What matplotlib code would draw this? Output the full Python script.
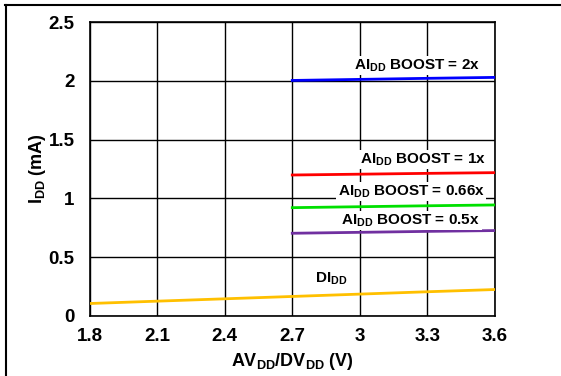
import matplotlib.pyplot as plt
from matplotlib.lines import Line2D

plt.rcParams['font.family'] = ['Liberation Sans', 'DejaVu Sans']

# supply voltage (V)
v_all = [1.8, 2.1, 2.4, 2.7, 3.0, 3.3, 3.6]
v_boost = [2.7, 3.0, 3.3, 3.6]

# supply current (mA)
didd = [0.105, 0.125, 0.145, 0.165, 0.185, 0.205, 0.224]
aidd_2x = [2.004, 2.013, 2.022, 2.03]
aidd_1x = [1.199, 1.206, 1.213, 1.219]
aidd_066x = [0.921, 0.929, 0.937, 0.944]
aidd_05x = [0.703, 0.711, 0.719, 0.726]

xticks = [1.8, 2.1, 2.4, 2.7, 3.0, 3.3, 3.6]
xtick_labels = ['1.8', '2.1', '2.4', '2.7', '3', '3.3', '3.6']
yticks = [0, 0.5, 1, 1.5, 2, 2.5]
ytick_labels = ['0', '0.5', '1', '1.5', '2', '2.5']

fig = plt.figure(figsize=(5.61, 3.76), dpi=100)
ax = fig.add_axes([0.160, 0.160, 0.722, 0.781])

ax.plot(v_all, didd, color='#FFC000', lw=2, zorder=3)
ax.plot(v_boost, aidd_2x, color='#0000FF', lw=2, zorder=3)
ax.plot(v_boost, aidd_1x, color='#FF0000', lw=2, zorder=3)
ax.plot(v_boost, aidd_066x, color='#00E000', lw=2, zorder=3)
ax.plot(v_boost, aidd_05x, color='#7030A0', lw=2, zorder=3)

ax.set_xlim(1.8, 3.6)
ax.set_ylim(0, 2.5)
ax.set_xticks(xticks)
ax.set_xticklabels(xtick_labels, fontweight='bold')
ax.set_yticks(yticks)
ax.set_yticklabels(ytick_labels, fontweight='bold')
ax.tick_params(length=0, labelsize=13.5)
ax.tick_params(axis='y', pad=11)
ax.tick_params(axis='x', pad=9)
ax.grid(True, color='black', lw=1.0)
ax.set_axisbelow(True)
for s in ax.spines.values():
    s.set_linewidth(1.2)

ax.set_xlabel(r'AV$_{\mathregular{DD}}$/DV$_{\mathregular{DD}}$ (V)', fontsize=13,
              fontweight='bold', labelpad=4)
ax.set_ylabel(r'I$_{\mathregular{DD}}$ (mA)', fontsize=13, fontweight='bold')
ax.yaxis.set_label_coords(-0.104, 0.5)

box = dict(facecolor='white', edgecolor='none', pad=1)
kw = dict(fontsize=11, fontweight='bold', va='center', bbox=box, zorder=4)
ax.text(3.535, 2.13, r'AI$_{\mathregular{DD}}$ BOOST = 2x', ha='right', **kw)
ax.text(3.56, 1.33, r'AI$_{\mathregular{DD}}$ BOOST = 1x', ha='right', **kw)
ax.text(3.555, 1.06, r'AI$_{\mathregular{DD}}$ BOOST = 0.66x', ha='right', **kw)
ax.text(3.535, 0.81, r'AI$_{\mathregular{DD}}$ BOOST = 0.5x', ha='right', **kw)
ax.text(2.8, 0.32, r'DI$_{\mathregular{DD}}$', ha='left', **kw)

# page frame
fig.add_artist(Line2D([5 / 561, 1.0], [1 - 5 / 376, 1 - 5 / 376], color='black', lw=1.5,
                      transform=fig.transFigure))
fig.add_artist(Line2D([6 / 561, 6 / 561], [0, 1 - 5 / 376], color='black', lw=1.5,
                      transform=fig.transFigure))

fig.savefig('out.png', dpi=100)
